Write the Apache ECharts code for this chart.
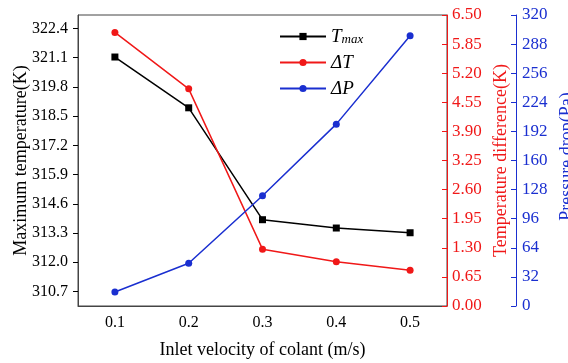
<!DOCTYPE html>
<html>
<head>
<meta charset="utf-8">
<script src="https://cdn.jsdelivr.net/npm/echarts@6/dist/echarts.min.js"></script>
<style>
  html, body { margin: 0; padding: 0; background: #fff; }
  #chart { width: 568px; height: 363px; }
</style>
</head>
<body>
<div id="chart"></div>
<script>
const velocity = ["0.1", "0.2", "0.3", "0.4", "0.5"];
const tMax = [321.13, 318.87, 313.89, 313.52, 313.31];
const deltaT = [6.11, 4.85, 1.27, 0.99, 0.8];
const deltaP = [15.4, 47, 121.3, 200, 297.2];
const tMaxTicks = [310.7, 312.0, 313.3, 314.6, 315.9, 317.2, 318.5, 319.8, 321.1, 322.4];

const font = "Liberation Serif";
const red = "#f01818";
const blue = "#1a2fd0";

const chart = echarts.init(document.getElementById("chart"));

const option = {
  backgroundColor: "#fff",
  animation: false,
  grid: {
    left: 78,
    right: 121,
    top: 15,
    bottom: 57,
    outerBoundsMode: "none",
    show: true,
    borderColor: "#444",
    borderWidth: 1,
  },
  legend: {
    left: 274,
    top: 22,
    orient: "vertical",
    itemWidth: 46,
    itemHeight: 9,
    itemGap: 7,
    data: ["Tmax", "ΔT", "ΔP"],
    formatter: (name) => {
      if (name === "Tmax") return "{i|T}{s|max}";
      return "{i|" + name + "}";
    },
    textStyle: {
      rich: {
        i: { fontFamily: font, fontStyle: "italic", fontSize: 19, color: "#000" },
        s: { fontFamily: font, fontStyle: "italic", fontSize: 13, color: "#000", padding: [6, 0, 0, 0] },
      },
    },
  },
  xAxis: {
    type: "category",
    data: velocity,
    boundaryGap: true,
    name: "Inlet velocity of colant (m/s)",
    nameLocation: "middle",
    nameGap: 35,
    nameTextStyle: { fontFamily: font, fontSize: 18, color: "#000" },
    axisLine: { lineStyle: { color: "#444" } },
    axisTick: { alignWithLabel: true, inside: true, length: 5, lineStyle: { color: "#000" } },
    axisLabel: { fontFamily: font, fontSize: 16, color: "#000", margin: 9 },
    splitLine: { show: false },
  },
  yAxis: [
    {
      type: "value",
      position: "left",
      min: 310.05,
      max: 323,
      name: "Maximum temperature(K)",
      nameLocation: "middle",
      nameRotate: 90,
      nameGap: 48,
      nameMoveOverlap: false,
      nameTextStyle: { fontFamily: font, fontSize: 18, color: "#000" },
      axisLine: { show: true, lineStyle: { color: "#444" } },
      axisTick: { show: true, length: 5, customValues: tMaxTicks, lineStyle: { color: "#000" } },
      axisLabel: {
        fontFamily: font, fontSize: 16, color: "#000", margin: 10,
        customValues: tMaxTicks,
        formatter: (v) => v.toFixed(1),
      },
      splitLine: { show: false },
    },
    {
      type: "value",
      position: "right",
      min: 0,
      max: 6.5,
      interval: 0.65,
      name: "Temperature difference(K)",
      nameLocation: "middle",
      nameRotate: 90,
      nameGap: 44,
      nameTextStyle: { fontFamily: font, fontSize: 18, color: red },
      axisLine: { show: true, lineStyle: { color: red } },
      axisTick: { show: true, inside: true, length: 5, lineStyle: { color: red } },
      axisLabel: { fontFamily: font, fontSize: 17, color: red, margin: 5, formatter: (v) => v.toFixed(2) },
      splitLine: { show: false },
    },
    {
      type: "value",
      position: "right",
      offset: 69,
      min: 0,
      max: 320,
      interval: 32,
      name: "Pressure drop(Pa)",
      nameLocation: "middle",
      nameRotate: 90,
      nameGap: 36,
      nameTextStyle: { fontFamily: font, fontSize: 18, color: blue, padding: [0, 0, 0, 8] },
      axisLine: { show: true, lineStyle: { color: blue } },
      axisTick: { show: true, inside: true, length: 5, lineStyle: { color: blue } },
      axisLabel: { fontFamily: font, fontSize: 17, color: blue, margin: 6 },
      splitLine: { show: false },
    },
  ],
  series: [
    {
      name: "Tmax",
      type: "line",
      yAxisIndex: 0,
      data: tMax,
      symbol: "rect",
      symbolSize: 7,
      itemStyle: { color: "#000" },
      lineStyle: { color: "#000", width: 1.5 },
    },
    {
      name: "ΔT",
      type: "line",
      yAxisIndex: 1,
      data: deltaT,
      symbol: "circle",
      symbolSize: 7,
      itemStyle: { color: red },
      lineStyle: { color: red, width: 1.5 },
    },
    {
      name: "ΔP",
      type: "line",
      yAxisIndex: 2,
      data: deltaP,
      symbol: "circle",
      symbolSize: 7,
      itemStyle: { color: blue },
      lineStyle: { color: blue, width: 1.5 },
    },
  ],
};

chart.setOption(option);
</script>
</body>
</html>
